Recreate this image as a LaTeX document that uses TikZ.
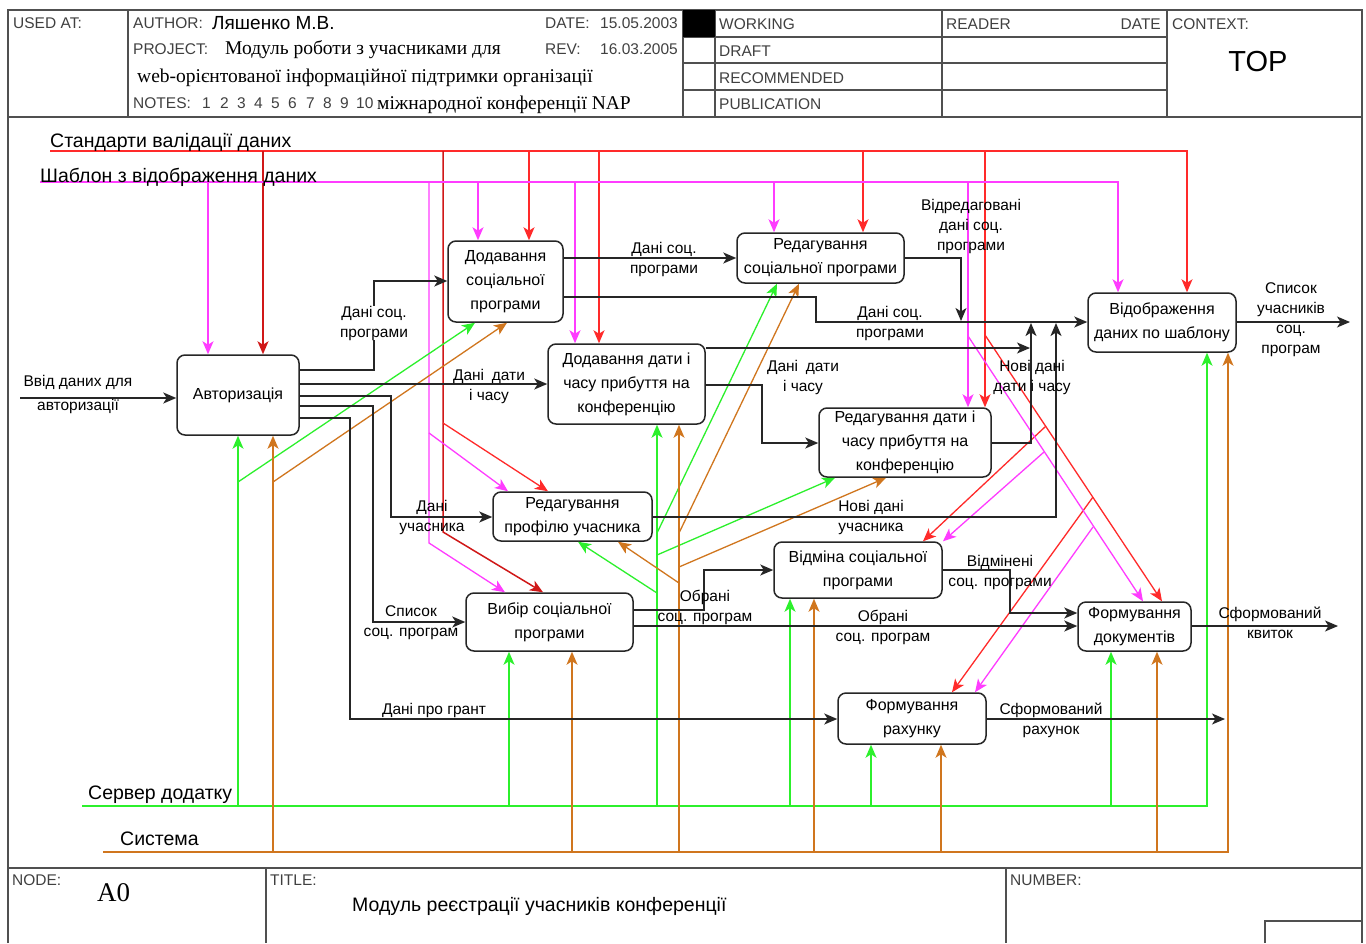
\documentclass[tikz,border=0pt]{standalone}
\usepackage{fontspec}
\setmainfont{Liberation Sans}
\newfontfamily\serifr{Liberation Serif}
\usetikzlibrary{arrows.meta}
\definecolor{cred}{HTML}{FF2A2A}
\definecolor{dred}{HTML}{D01818}
\definecolor{cmag}{HTML}{FF3CFF}
\definecolor{cgrn}{HTML}{2CF02C}
\definecolor{corg}{HTML}{D0761E}
\definecolor{framec}{HTML}{505050}
\begin{document}
\begin{tikzpicture}[x=1pt,y=-1pt,
  fr/.style={draw=framec,line width=1.3pt},
  hd/.style={anchor=base west,inner sep=0pt,font=\fontsize{15.5}{18}\selectfont,text=black!75},
  sfr/.style={anchor=base west,inner sep=0pt,font=\serifr\fontsize{19.5}{22}\selectfont},
  box/.style={draw=black!85,fill=white,line width=1.5pt,rounded corners=8pt,inner sep=0pt,align=center,font=\fontsize{16}{24}\selectfont},
  lbl/.style={inner sep=0pt,align=center,font=\fontsize{15.5}{20}\selectfont},
  buslbl/.style={inner sep=0pt,anchor=base west,font=\fontsize{19.5}{22}\selectfont},
  tip/.style={-{Stealth[length=13pt,width=11pt,inset=3.5pt]}},
  blk/.style={draw=black!85,line width=1.5pt},
  redl/.style={draw=cred,line width=1.3pt},
  dredl/.style={draw=dred,line width=1.5pt},
  magl/.style={draw=cmag,line width=1.3pt},
  grnl/.style={draw=cgrn,line width=1.3pt},
  orgl/.style={draw=corg,line width=1.3pt}
]
\useasboundingbox (0,0) rectangle (1366,943);
\fill[white] (0,0) rectangle (1366,943);

% ---------- frame ----------
\draw[fr] (8,943) -- (8,10) -- (1362,10) -- (1362,943);
\draw[fr] (8,117) -- (1362,117);
\draw[fr] (8,868) -- (1362,868);
\draw[fr] (128,10) -- (128,117);
\draw[fr] (683,10) -- (683,117);
\draw[fr] (715,10) -- (715,117);
\draw[fr] (942,10) -- (942,117);
\draw[fr] (1167,10) -- (1167,117);
\foreach \yy in {37,63,90} \draw[fr] (683,\yy) -- (1167,\yy);
\fill[black] (683,10) rectangle (715,37);
\draw[fr] (266,868) -- (266,943);
\draw[fr] (1006,868) -- (1006,943);
\draw[fr] (1265,943) -- (1265,921) -- (1362,921);

% ---------- header text ----------
\node[hd] (usedat) at (13,28) {USED AT:};
\node[hd] (author) at (133,28) {AUTHOR:};
\node[anchor=base west,inner sep=0pt,font=\fontsize{19}{22}\selectfont] (authn) at (212,29) {Ляшенко М.В.};
\node[hd] (datel) at (545,28) {DATE:};
\node[hd,anchor=base east] (datev) at (678,28) {15.05.2003};
\node[hd] (proj) at (133,54) {PROJECT:};
\node[sfr] (projv) at (225,54) {Модуль роботи з учасниками для};
\node[hd] (revl) at (545,54) {REV:};
\node[hd,anchor=base east] (revv) at (678,54) {16.03.2005};
\node[sfr] (projv2) at (137,82) {web-орієнтованої інформаційної підтримки організації};
\node[hd] (notes) at (133,108) {NOTES:};
\foreach \xx/\nn in {202/1,220/2,237/3,254/4,271/5,288/6,306/7,323/8,340/9,356/10}
  \node[hd] (n\nn) at (\xx,108) {\nn};
\node[sfr] (projv3) at (377,109) {міжнародної конференції NAP};
\node[hd] (working) at (719,29) {WORKING};
\node[hd] (draft) at (719,56) {DRAFT};
\node[hd] (recom) at (719,83) {RECOMMENDED};
\node[hd] (publ) at (719,109) {PUBLICATION};
\node[hd] (reader) at (946,29) {READER};
\node[hd,anchor=base east] (rdate) at (1161,29) {DATE};
\node[hd] (context) at (1172,29) {CONTEXT:};
\node[inner sep=0pt,font=\fontsize{29}{30}\selectfont] (top) at (1258,62) {TOP};

% ---------- footer text ----------
\node[hd] (nodel) at (12,885) {NODE:};
\node[hd] (titlel) at (270,885) {TITLE:};
\node[hd] (numl) at (1010,885) {NUMBER:};
\node[anchor=base west,inner sep=0pt,font=\serifr\fontsize{27}{28}\selectfont] (a0) at (97,901) {A0};
\node[anchor=base west,inner sep=0pt,font=\fontsize{19.5}{22}\selectfont] (title) at (352,911) {Модуль реєстрації учасників конференції};

% ---------- boxes ----------
\node[box,minimum width=122pt,minimum height=80pt] (b1) at (238,395) {Авторизація};
\node[box,minimum width=115pt,minimum height=81pt] (b2) at (505.5,281.5) {Додавання\\соціальної\\програми};
\node[box,minimum width=167pt,minimum height=50pt] (b3) at (820.5,258) {Редагування\\соціальної програми};
\node[box,minimum width=157pt,minimum height=80pt] (b4) at (626.5,384) {Додавання дати і\\часу прибуття на\\конференцію};
\node[box,minimum width=172pt,minimum height=69pt] (b5) at (905,442.5) {Редагування дати і\\часу прибуття на\\конференцію};
\node[box,minimum width=148pt,minimum height=59pt] (b6) at (1162,322.5) {Відображення\\даних по шаблону};
\node[box,minimum width=159pt,minimum height=49pt] (b7) at (572.5,516.5) {Редагування\\профілю учасника};
\node[box,minimum width=167pt,minimum height=58pt] (b8) at (549.5,622) {Вибір соціальної\\програми};
\node[box,minimum width=168pt,minimum height=56pt] (b9) at (858,570) {Відміна соціальної\\програми};
\node[box,minimum width=113pt,minimum height=49pt] (b10) at (1134.5,626.5) {Формування\\документів};
\node[box,minimum width=148pt,minimum height=51pt] (b11) at (912,718.5) {Формування\\рахунку};

% ---------- control: red ----------
\coordinate (rs) at (50,151);
\coordinate (re) at (1187,151);
\draw[redl,tip] (rs) -- (re) -- (re |- b6.north);
\draw[dredl,tip] (263,151) -- (b1.north -| 263,0);
\draw[redl,tip] (529,151) -- (b2.north -| 529,0);
\draw[redl,tip] (599,151) -- (b4.north -| 599,0);
\draw[redl,tip] (863,151) -- (b3.north -| 863,0);
\draw[redl,tip] (985,151) -- (b5.north -| 985,0);
\draw[dredl,tip] (443,151) -- (443,532) -- (b8.north -| 543,0);
\draw[redl,tip] (443,423) -- (b7.north -| 548,0);
\draw[redl,tip] (985,335) -- (b10.north -| 1162,0);
\draw[redl,tip] (1046,426) -- (b9.north -| 923,0);
\draw[redl,tip] (1093,497) -- (b11.north -| 952,0);

% ---------- control: magenta ----------
\coordinate (ms) at (40,182);
\coordinate (me) at (1118,182);
\draw[magl,tip] (ms) -- (me) -- (me |- b6.north);
\draw[magl,tip] (208,182) -- (b1.north -| 208,0);
\draw[magl,tip] (478,182) -- (b2.north -| 478,0);
\draw[magl,tip] (575,182) -- (b4.north -| 575,0);
\draw[magl,tip] (774,182) -- (b3.north -| 774,0);
\draw[magl,tip] (968,182) -- (b5.north -| 968,0);
\draw[magl,tip] (429,182) -- (429,543) -- (b8.north -| 505,0);
\draw[magl,tip] (429,433) -- (b7.north -| 508,0);
\draw[magl,tip] (968,336) -- (b10.north -| 1143,0);
\draw[magl,tip] (1044,452) -- (b9.north -| 943,0);
\draw[magl,tip] (1093,527) -- (b11.north -| 975,0);

% ---------- mechanism: green ----------
\coordinate (gs) at (82,806);
\coordinate (ge) at (1207,806);
\draw[grnl,tip] (gs) -- (ge) -- (ge |- b6.south);
\draw[grnl,tip] (238,806) -- (b1.south -| 238,0);
\draw[grnl,tip] (238,482) -- (b2.south -| 475,0);
\draw[grnl,tip] (509,806) -- (b8.south -| 509,0);
\draw[grnl,tip] (657,806) -- (b4.south -| 657,0);
\draw[grnl,tip] (657,533) -- (b3.south -| 777,0);
\draw[grnl,tip] (657,555) -- (b5.south -| 835,0);
\draw[grnl,tip] (657,593) -- (b7.south -| 578,0);
\draw[grnl,tip] (790,806) -- (b9.south -| 790,0);
\draw[grnl,tip] (871,806) -- (b11.south -| 871,0);
\draw[grnl,tip] (1111,806) -- (b10.south -| 1111,0);

% ---------- mechanism: orange ----------
\coordinate (os) at (103,852);
\coordinate (oe) at (1228,852);
\draw[orgl,tip] (os) -- (oe) -- (oe |- b6.south);
\draw[orgl,tip] (273,852) -- (b1.south -| 273,0);
\draw[orgl,tip] (273,482) -- (b2.south -| 507,0);
\draw[orgl,tip] (572,852) -- (b8.south -| 572,0);
\draw[orgl,tip] (679,852) -- (b4.south -| 679,0);
\draw[orgl,tip] (679,533) -- (b3.south -| 799,0);
\draw[orgl,tip] (679,567) -- (b5.south -| 886,0);
\draw[orgl,tip] (679,583) -- (b7.south -| 618,0);
\draw[orgl,tip] (814,852) -- (b9.south -| 814,0);
\draw[orgl,tip] (941,852) -- (b11.south -| 941,0);
\draw[orgl,tip] (1157,852) -- (b10.south -| 1157,0);

% ---------- bus labels ----------
\node[buslbl] (std) at (50,147) {Стандарти валідації даних};
\node[buslbl] (tpl) at (40,182) {Шаблон з відображення даних};
\node[buslbl] (srv) at (88,799) {Сервер додатку};
\node[buslbl] (sys) at (120,845) {Система};

% ---------- black flows ----------
\coordinate (inp) at (20,398);
\draw[blk,tip] (inp) -- (b1.west |- 0,398);
\draw[blk,tip] (b1.east |- 0,370) -- (374,370) -- (374,281) -- (b2.west |- 0,281);
\draw[blk,tip] (b1.east |- 0,384) -- (b4.west |- 0,384);
\draw[blk,tip] (b1.east |- 0,396) -- (391,396) -- (391,517) -- (b7.west |- 0,517);
\draw[blk,tip] (b1.east |- 0,406) -- (373,406) -- (373,622) -- (b8.west |- 0,622);
\draw[blk,tip] (b1.east |- 0,418) -- (350,418) -- (350,719) -- (b11.west |- 0,719);
\draw[blk,tip] (b2.east |- 0,258) -- (b3.west |- 0,258);
\draw[blk,tip] (b2.east |- 0,297) -- (816,297) -- (816,322) -- (b6.west |- 0,322);
\draw[blk,tip] (b3.east |- 0,258) -- (961,258) -- (961,321);
\draw[blk,tip] (b4.east |- 0,348) -- (1030,348);
\draw[blk,tip] (b4.east |- 0,385) -- (762,385) -- (762,443) -- (b5.west |- 0,443);
\draw[blk,tip] (b5.east |- 0,443) -- (1031,443) -- (1031,323);
\draw[blk,tip] (b7.east |- 0,517) -- (1056,517) -- (1056,323);
\coordinate (out6) at (1350,322);
\draw[blk,tip] (b6.east |- 0,322) -- (out6);
\draw[blk,tip] (b8.east |- 0,610) -- (704,610) -- (704,570) -- (b9.west |- 0,570);
\draw[blk,tip] (b8.east |- 0,626) -- (b10.west |- 0,626);
\draw[blk,tip] (b9.east |- 0,570) -- (1010,570) -- (1010,613) -- (b10.west |- 0,613);
\coordinate (out10) at (1338,626);
\draw[blk,tip] (b10.east |- 0,626) -- (out10);
\coordinate (out11) at (1225,719);
\draw[blk,tip] (b11.east |- 0,719) -- (out11);

% ---------- flow labels ----------
\node[lbl,font=\fontsize{15.5}{24}\selectfont] (l0) at (78,394) {Ввід даних для\\авторизації};
\node[lbl,fill=white] (l1) at (374,323) {Дані соц.\\програми};
\node[lbl] (l2) at (489,386) {Дані\enspace дати\\і часу};
\node[lbl] (l3) at (432,517) {Дані\\учасника};
\node[lbl] (l4) at (411,623) {Список\\соц. програм};
\node[lbl] (l5) at (434,710) {Дані про грант};
\node[lbl] (l6) at (664,259) {Дані соц.\\програми};
\node[lbl] (l7) at (890,323) {Дані соц.\\програми};
\node[lbl] (l8) at (971,226) {Відредаговані\\дані соц.\\програми};
\node[lbl] (l9) at (803,377) {Дані\enspace дати\\і часу};
\node[lbl] (l10) at (1032,377) {Нові дані\\дати і часу};
\node[lbl] (l11) at (871,517) {Нові дані\\учасника};
\node[lbl] (l12) at (1291,320) {Список\\учасників\\соц.\\програм};
\node[lbl] (l13) at (705,607) {Обрані\\соц. програм};
\node[lbl] (l14) at (883,627) {Обрані\\соц. програм};
\node[lbl] (l15) at (1000,572) {Відмінені\\соц. програми};
\node[lbl] (l16) at (1270,623) {Сформований\\квиток};
\node[lbl] (l17) at (1051,720) {Сформований\\рахунок};
\end{tikzpicture}
\end{document}
